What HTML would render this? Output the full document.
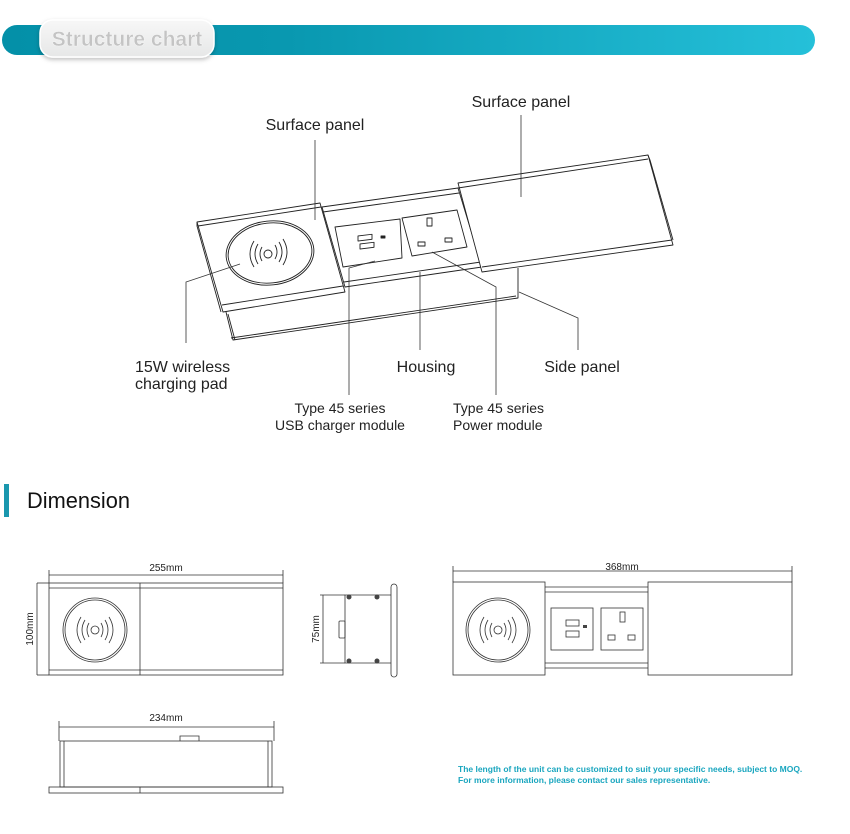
<!DOCTYPE html>
<html><head><meta charset="utf-8"><style>
html,body{margin:0;padding:0;background:#fff;width:850px;height:834px;overflow:hidden}
svg{display:block}
text{font-family:"Liberation Sans",Arial,sans-serif}
</style></head><body>
<svg width="850" height="834" viewBox="0 0 850 834" xmlns="http://www.w3.org/2000/svg">
<defs>
<linearGradient id="g" x1="0" x2="1" y1="0" y2="0"><stop offset="0" stop-color="#0490a8"/><stop offset="0.35" stop-color="#0998b0"/><stop offset="1" stop-color="#25c0d9"/></linearGradient>
<linearGradient id="p" x1="0" x2="0" y1="0" y2="1"><stop offset="0" stop-color="#f7f7f7"/><stop offset="1" stop-color="#e6e7e7"/></linearGradient>
<filter id="sh" x="-20%" y="-30%" width="140%" height="180%"><feDropShadow dx="0" dy="2" stdDeviation="2" flood-color="#000" flood-opacity="0.25"/></filter>
</defs>
<rect x="2" y="25" width="813" height="30" rx="15" fill="url(#g)"/>
<rect x="40" y="20" width="174" height="37" rx="13" fill="url(#p)" stroke="#fff" stroke-width="1.5" filter="url(#sh)"/>
<text x="127" y="46" text-anchor="middle" font-size="21" fill="#c4c4c4" font-weight="bold" stroke="#fff" stroke-width="0.3">Structure chart</text>

<g fill="none" stroke="#222" stroke-width="0.9" stroke-linejoin="round">
 <polygon points="322,207 458,188 482,267 345,287" fill="#fff"/>
 <line x1="323" y1="212" x2="459" y2="193"/>
 <line x1="344" y1="282" x2="481" y2="262"/>
 <polyline points="226,312 233,340 518,298 518,268"/>
 <line x1="231" y1="338" x2="516" y2="296"/>
 <line x1="228" y1="314" x2="235" y2="340"/>
 <polygon points="197,222 320,203 345,292 223,312" fill="#fff"/>
 <line x1="198" y1="226" x2="321" y2="207"/>
 <line x1="222" y1="305" x2="343" y2="286"/>
 <polyline points="197,222 197,226 221,312"/>
 <ellipse cx="270" cy="253" rx="44" ry="32" transform="rotate(-6 270 253)"/>
 <ellipse cx="270" cy="253" rx="42" ry="30" transform="rotate(-6 270 253)"/>
 <circle cx="268" cy="254" r="4"/>
 <path d="M262,247 q-4,7 0,14 M258,244 q-6,10 0,20 M254,241 q-8,13 0,26 M275,245 q4,7 0,14 M279,242 q6,10 0,20 M283,239 q8,13 0,26"/>
 <polygon points="335,227 400,219 402,258 343,267"/>
 <rect x="358" y="236" width="14" height="5" transform="skewY(-7)" transform-origin="358 236"/>
 <rect x="360" y="244" width="14" height="5" transform="skewY(-7)" transform-origin="360 244"/>
 <rect x="381" y="236" width="4" height="2" fill="#222"/>
 <polygon points="402,218 457,210 467,247 412,256"/>
 <rect x="427" y="218" width="5" height="8"/>
 <rect x="418" y="242" width="7" height="4"/>
 <rect x="445" y="238" width="7" height="4"/>
 <polygon points="458,183 648,155 673,245 482,272" fill="#fff"/>
 <line x1="458" y1="188" x2="648" y2="159"/>
 <line x1="482" y1="267" x2="672" y2="240"/>
 <polyline points="648,155 650,160 673,240"/>
</g>
<g fill="none" stroke="#333" stroke-width="0.8">
 <line x1="315" y1="140" x2="315" y2="220"/>
 <line x1="521" y1="115" x2="521" y2="197"/>
 <polyline points="240,264 186,282 186,343"/>
 <polyline points="375,261 349,268 349,395"/>
 <line x1="420" y1="272" x2="420" y2="350"/>
 <polyline points="432,252 496,287 496,395"/>
 <polyline points="519,292 578,318 578,350"/>
</g>
<g font-size="16" fill="#222">
 <text x="315" y="130" text-anchor="middle">Surface panel</text>
 <text x="521" y="107" text-anchor="middle">Surface panel</text>
 <text x="135" y="372">15W wireless</text>
 <text x="135" y="389">charging pad</text>
 <text x="426" y="372" text-anchor="middle">Housing</text>
 <text x="582" y="372" text-anchor="middle">Side panel</text>
</g>
<g font-size="14" fill="#222">
 <text x="340" y="413" text-anchor="middle">Type 45 series</text>
 <text x="340" y="430" text-anchor="middle">USB charger module</text>
 <text x="453" y="413">Type 45 series</text>
 <text x="453" y="430">Power module</text>
</g>

<rect x="4" y="484" width="5" height="33" fill="#1a97ae"/>
<text x="27" y="508" font-size="21.8" fill="#111">Dimension</text>

<g fill="none" stroke="#333" stroke-width="0.8">
 <rect x="49" y="583" width="234" height="92"/>
 <line x1="49" y1="588" x2="283" y2="588"/>
 <line x1="49" y1="670" x2="283" y2="670"/>
 <line x1="140" y1="583" x2="140" y2="675"/>
 <circle cx="95" cy="630" r="32"/><circle cx="95" cy="630" r="30"/>
 <circle cx="95" cy="630" r="4"/>
 <path d="M89,623 q-4,7 0,14 M85,620 q-6,10 0,20 M81,617 q-8,13 0,26 M101,623 q4,7 0,14 M105,620 q6,10 0,20 M109,617 q8,13 0,26"/>
 <line x1="49" y1="575" x2="283" y2="575"/><line x1="49" y1="570" x2="49" y2="583"/><line x1="283" y1="570" x2="283" y2="583"/>
 <line x1="37" y1="583" x2="37" y2="675"/><line x1="37" y1="583" x2="49" y2="583"/><line x1="37" y1="675" x2="49" y2="675"/>
 <rect x="391" y="584" width="6" height="93" rx="3"/>
 <polyline points="391,595 345,595 345,663 391,663"/>
 <rect x="339" y="621" width="6" height="17" rx="1"/>
 <line x1="323" y1="595" x2="323" y2="663"/><line x1="320" y1="595" x2="345" y2="595"/><line x1="320" y1="663" x2="345" y2="663"/>
 <line x1="59" y1="727" x2="274" y2="727"/><line x1="59" y1="721" x2="59" y2="741"/><line x1="274" y1="721" x2="274" y2="741"/>
 <rect x="60" y="741" width="212" height="46"/>
 <line x1="64" y1="741" x2="64" y2="787"/><line x1="268" y1="741" x2="268" y2="787"/>
 <path d="M180,741 v-5 h19 v5"/>
 <rect x="49" y="787" width="234" height="6"/>
 <line x1="140" y1="787" x2="140" y2="793"/>
 <rect x="453" y="582" width="92" height="93"/>
 <rect x="648" y="582" width="144" height="93"/>
 <line x1="545" y1="587" x2="648" y2="587"/><line x1="545" y1="592" x2="648" y2="592"/>
 <line x1="545" y1="663" x2="648" y2="663"/><line x1="545" y1="668" x2="648" y2="668"/>
 <rect x="551" y="608" width="42" height="42"/>
 <rect x="601" y="608" width="42" height="42"/>
 <rect x="566" y="620" width="13" height="6"/><rect x="566" y="631" width="13" height="6"/>
 <rect x="620" y="612" width="5" height="10"/>
 <rect x="608" y="635" width="7" height="5"/><rect x="628" y="635" width="7" height="5"/>
 <circle cx="498" cy="630" r="32"/><circle cx="498" cy="630" r="30"/>
 <circle cx="498" cy="630" r="4"/>
 <path d="M492,623 q-4,7 0,14 M488,620 q-6,10 0,20 M484,617 q-8,13 0,26 M504,623 q4,7 0,14 M508,620 q6,10 0,20 M512,617 q8,13 0,26"/>
 <line x1="453" y1="571" x2="792" y2="571"/><line x1="453" y1="566" x2="453" y2="582"/><line x1="792" y1="566" x2="792" y2="582"/>
</g>
<g fill="#444">
 <circle cx="349" cy="597" r="2.5"/><circle cx="377" cy="597" r="2.5"/><circle cx="349" cy="661" r="2.5"/><circle cx="377" cy="661" r="2.5"/>
 <rect x="583" y="625" width="4" height="3"/>
</g>
<g font-size="10" fill="#222">
 <text x="166" y="571" text-anchor="middle">255mm</text>
 <text x="166" y="721" text-anchor="middle">234mm</text>
 <text x="622" y="570" text-anchor="middle">368mm</text>
 <text transform="translate(33,629) rotate(-90)" text-anchor="middle">100mm</text>
 <text transform="translate(319,629) rotate(-90)" text-anchor="middle">75mm</text>
</g>
<g font-size="8.5" font-weight="bold" fill="#1aa6bf">
 <text x="458" y="772">The length of the unit can be customized to suit your specific needs, subject to MOQ.</text>
 <text x="458" y="783">For more information, please contact our sales representative.</text>
</g>
</svg>
</body></html>
